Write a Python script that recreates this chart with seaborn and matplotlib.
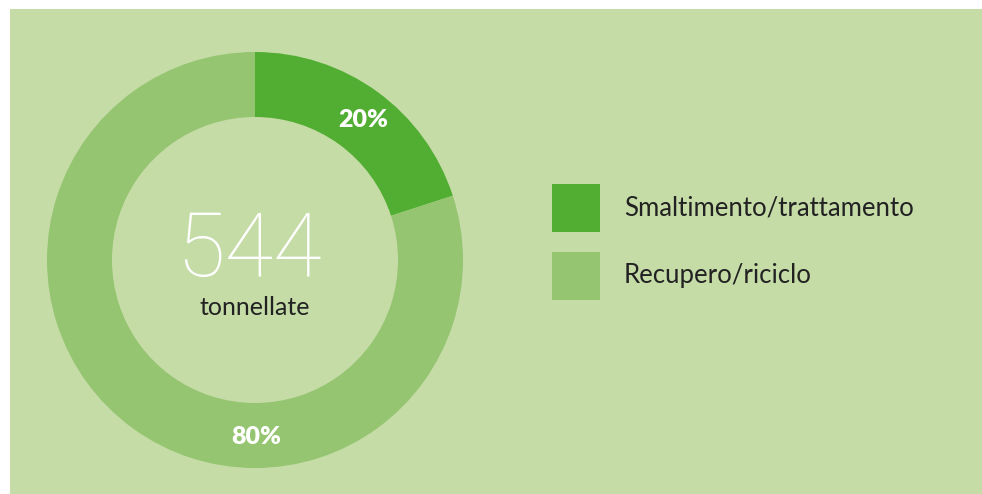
import matplotlib
matplotlib.use("Agg")
import matplotlib.pyplot as plt
from matplotlib.patches import Rectangle
import numpy as np
import seaborn as sns

categories = ["Smaltimento/trattamento", "Recupero/riciclo"]
values = [20, 80]
pct_labels = ["20%", "80%"]
total_label = "544"
unit_label = "tonnellate"

colors = ["#52ae32", "#95c571"]
bg = "#c5dca7"
label_angles = [52.3, -89.5]

sns.set_theme(style="white")
plt.rcParams['font.family'] = ['Lato', 'DejaVu Sans']

W, H = 982, 494
fig = plt.figure(figsize=(W / 100, H / 100), dpi=100)
fig.patch.set_facecolor("white")
fig.add_artist(Rectangle((10 / W, 0), 1 - 10 / W, 1 - 9 / H, transform=fig.transFigure,
                         facecolor=bg, edgecolor="none", zorder=0))

cx, cy, R = 255, 260, 208
ax = fig.add_axes([(cx - R) / W, (H - cy - R) / H, 2 * R / W, 2 * R / H])
ax.set_facecolor("none")
ax.pie(values, colors=colors, startangle=90, counterclock=False, radius=1,
       wedgeprops=dict(width=65 / R, edgecolor="none"))
ax.set_xlim(-1, 1)
ax.set_ylim(-1, 1)
ax.set_aspect("equal")
ax.axis("off")

r = 1 - 31 / R
for ang, lab in zip(label_angles, pct_labels):
    ax.text(r * np.cos(np.radians(ang)), r * np.sin(np.radians(ang)), lab,
            ha="center", va="center", color="white", fontsize=18, fontweight="heavy")

ax.text(-0.03, 0.04, total_label, ha="center", va="center", color="white", fontsize=64,
        fontweight="light", family=["Roboto", "DejaVu Sans"])
ax.text(0, -0.23, unit_label, ha="center", va="center", color="#222222", fontsize=18)

for i, (cat, col) in enumerate(zip(categories, colors)):
    y0 = 184 + i * 68
    fig.add_artist(Rectangle((552 / W, (H - y0 - 48) / H), 48 / W, 48 / H,
                             transform=fig.transFigure, facecolor=col, edgecolor="none"))
    fig.text(624 / W, (H - y0 - 24) / H, cat, ha="left", va="center", color="#222222",
             fontsize=18.5)

fig.savefig("out.png", dpi=100, facecolor=fig.get_facecolor())
